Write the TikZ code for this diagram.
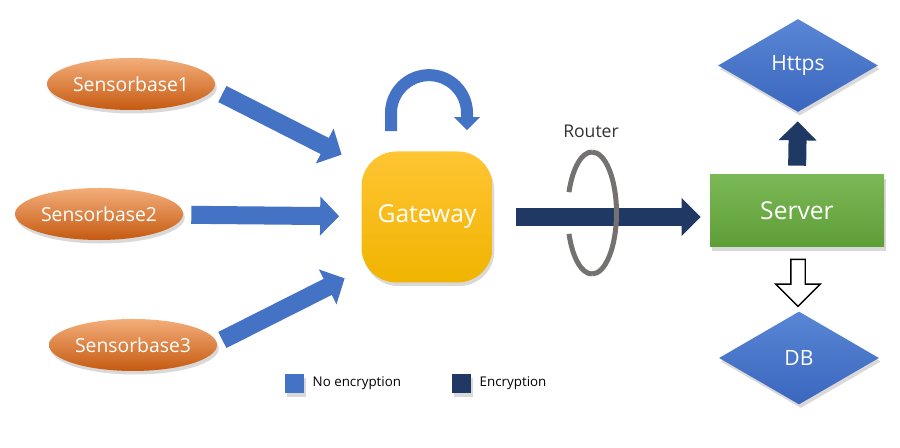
\documentclass[tikz,border=0pt]{standalone}
\usepackage{fontspec}
\setmainfont{Open Sans}
\usetikzlibrary{shapes,arrows.meta,positioning,shadows,calc}
\definecolor{noencblue}{HTML}{4472C4}
\definecolor{encnavy}{HTML}{203864}
\definecolor{sensortop}{HTML}{F4AE7A}
\definecolor{sensorbot}{HTML}{C55A11}
\definecolor{gwtop}{HTML}{FFC533}
\definecolor{gwbot}{HTML}{F0B400}
\definecolor{srvtop}{HTML}{7BB857}
\definecolor{srvbot}{HTML}{5E9E36}
\definecolor{storetop}{HTML}{5A86D5}
\definecolor{storebot}{HTML}{3A66BE}
\definecolor{ringgray}{HTML}{767171}
\def\Gw{Gateway}

\begin{document}
\begin{tikzpicture}[% styles used by the whole picture
			every node/.style={
				align=center,	% keeps "\\" working
				inner sep=0pt	% sizes come from minimum width/height
			},
			softshadow/.style={drop shadow={opacity=0.3,shadow xshift=1pt,shadow yshift=-2pt}},
			sensor/.style={ellipse,minimum width=3.36cm,minimum height=1.04cm,top color=sensortop,bottom color=sensorbot,text=white,font=\fontsize{11}{13}\selectfont,softshadow},
			gateway/.style={rectangle,rounded corners=0.7cm,minimum size=2.62cm,top color=gwtop,bottom color=gwbot,text=white,font=\fontsize{14}{16}\selectfont,softshadow},
			server/.style={rectangle,minimum width=3.48cm,minimum height=1.44cm,top color=srvtop,bottom color=srvbot,text=white,font=\fontsize{14}{16}\selectfont,softshadow},
			store/.style={diamond,minimum width=3.2cm,minimum height=1.86cm,top color=storetop,bottom color=storebot,text=white,font=\fontsize{12}{14}\selectfont,softshadow},
			noenc/.style={draw=noencblue,line width=0.36cm,-{Triangle[length=0.38cm,width=0.76cm]}},
			enc/.style={draw=encnavy,line width=0.36cm,-{Triangle[length=0.38cm,width=0.74cm]}},
			selfloop/.style={draw=noencblue,line width=0.24cm,-{Triangle[length=0.26cm,width=0.5cm]}},
			hollowarrow/.style={single arrow,draw=black,line width=0.8pt,fill=white,inner sep=0.13cm,minimum width=0.86cm,minimum height=0.94cm,single arrow head extend=0.3cm,rotate=-90},
			ring/.style={draw=ringgray,line width=0.1cm},
			keybox/.style={rectangle,minimum size=0.38cm,softshadow},
			keytext/.style={font=\fontsize{7.6}{9}\selectfont}
		]
		\useasboundingbox (0,0) rectangle (18,8.96);
		% sensors and gateway
		\node[sensor](s1) at (2.62,7.28){Sensorbase1};
		\node[sensor](s2) at (1.98,4.68){Sensorbase2};
		\node[sensor](s3) at (2.66,2.06){Sensorbase3};
		\node[gateway](gw) at (8.54,4.62){\Gw};
		% server side
		\node[server](srv) at (15.94,4.74){Server};
		\node[store](https) at (15.96,7.65){Https};
		\node[store](db) at (15.98,1.80){DB};
		% router ring, back half first
		\coordinate (ringc) at (11.84,4.70);
		\node[font=\fontsize{10}{12}\selectfont,text=black!80](rt) at (11.82,6.34){Router};
		\draw[ring] (ringc) ++(90:0.49 and 1.22) arc[start angle=90,end angle=160,x radius=0.49cm,y radius=1.22cm];
		\draw[ring] (ringc) ++(200:0.49 and 1.22) arc[start angle=200,end angle=270,x radius=0.49cm,y radius=1.22cm];
		\path
		([shift={(0.14,-0.2)}]s1.east) edge [noenc] ([shift={(-0.39,-0.07)}]gw.north west)
		(s2) edge [noenc,shorten <=0.16cm,shorten >=0.44cm] (gw)
		([shift={(0.10,0.10)}]s3.east) edge [noenc] ([shift={(-0.33,0.09)}]gw.south west)
		(gw.east) edge [enc,shorten <=0.46cm,shorten >=0.18cm] (gw.east -| srv.west)
		(srv.north) edge [enc,shorten <=0.18cm,shorten >=0.18cm] (https.south)
		;
		\draw[ring] (ringc) ++(-90:0.49 and 1.22) arc[start angle=-90,end angle=90,x radius=0.49cm,y radius=1.22cm];
		\draw[selfloop] ([xshift=-0.72cm,yshift=0.4cm]gw.north) -- ++(0,0.36) arc[start angle=180,end angle=0,radius=0.76cm] -- ++(0,-0.34);
		\node[hollowarrow](dbarrow) at ($(srv.south)!0.5!(db.north)$){};
		% legend
		\node[keybox,fill=noencblue](k1) at (5.89,1.29){};
		\node[keytext](k1t)[right=0.16cm of k1]{No encryption};
		\node[keybox,fill=encnavy](k2) at (9.23,1.29){};
		\node[keytext](k2t)[right=0.16cm of k2]{Encryption};
	\end{tikzpicture}
\end{document}
